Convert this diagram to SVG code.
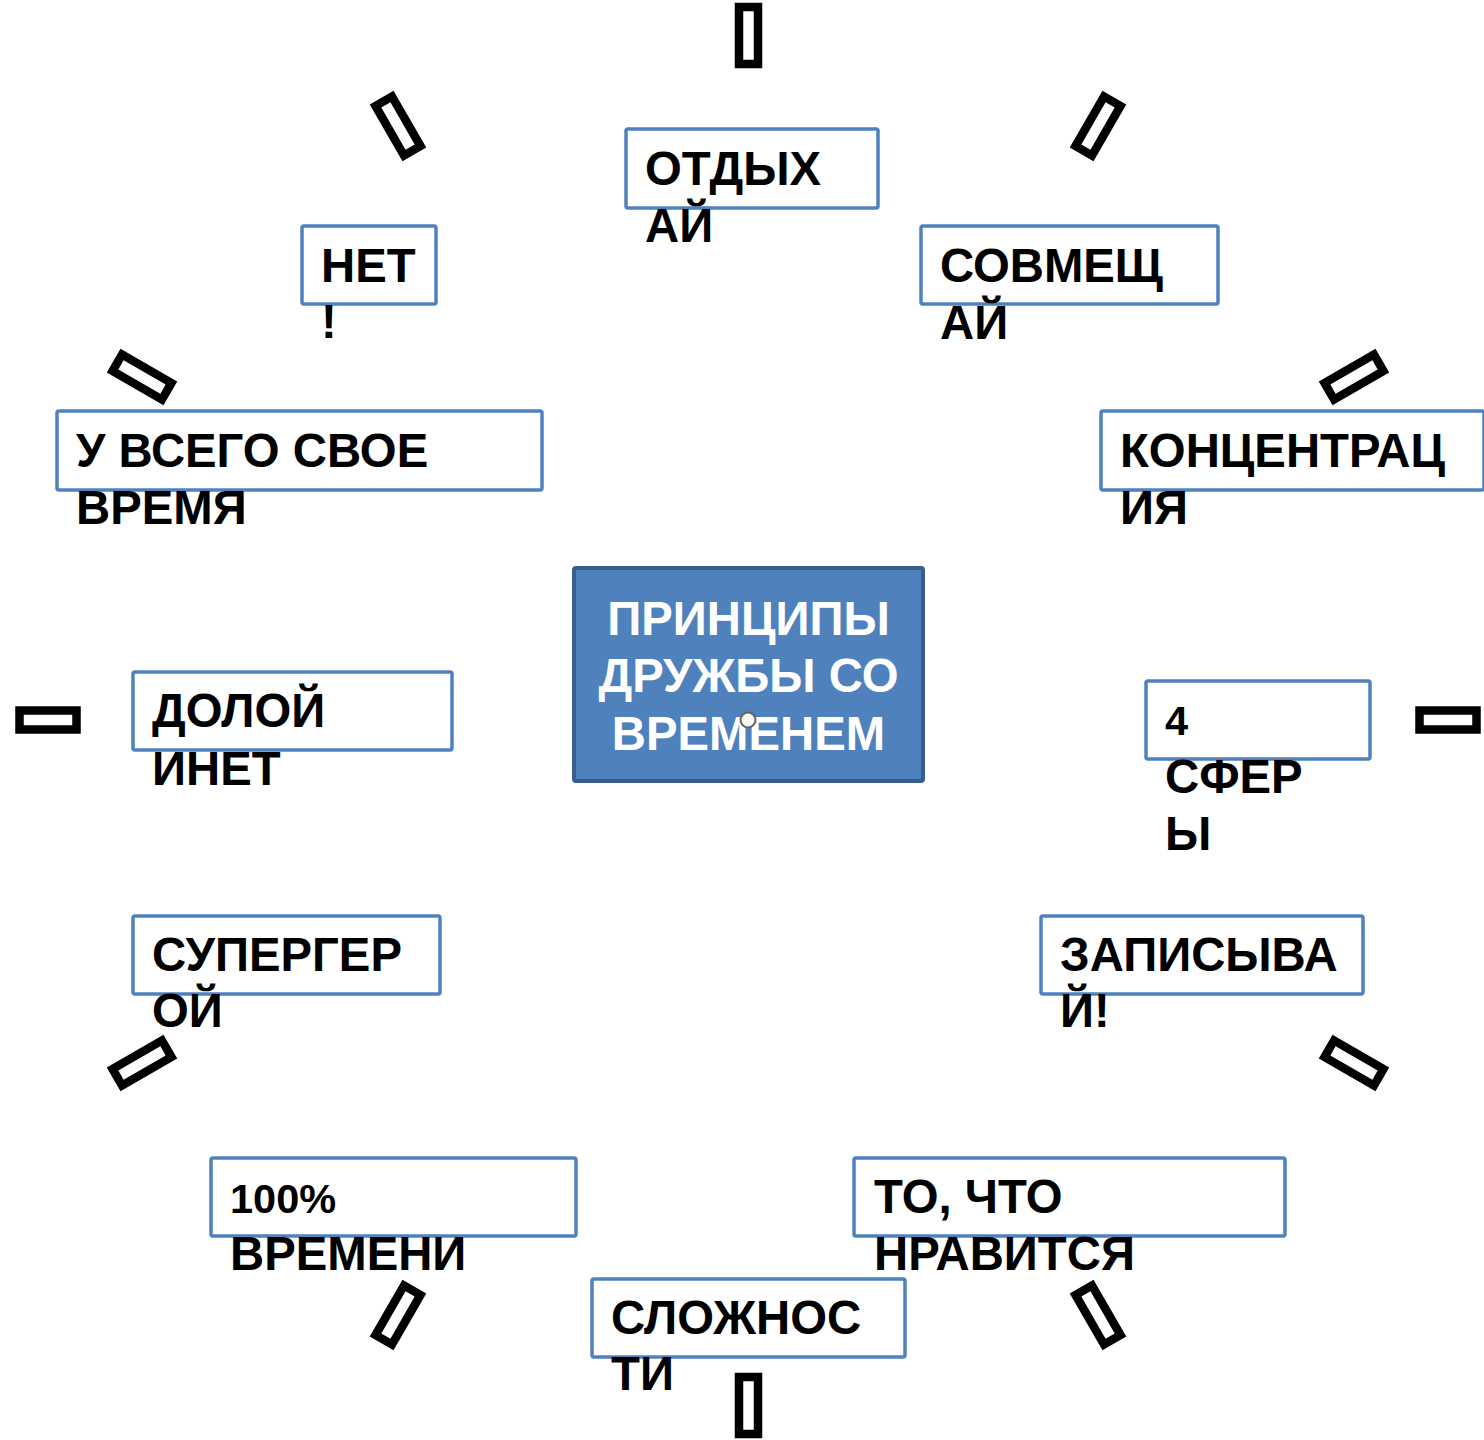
<svg xmlns="http://www.w3.org/2000/svg" width="1484" height="1440" viewBox="0 0 1484 1440">
<style>
.box{fill:#fff;stroke:#4F81BD;stroke-width:3.5}
.t{font-family:"Liberation Sans",Arial,sans-serif;font-weight:bold;font-size:47.3px;fill:#000}
.s{font-size:41.5px}
.c{fill:#fff;text-anchor:middle}
.tofu{fill:#fff;stroke:#000;stroke-width:8.5}
</style>
<defs>
<rect id="tf" class="tofu" x="-9.5" y="-28.5" width="19" height="57"/>
</defs>
<rect width="1484" height="1440" fill="#fff"/>
<g id="marks">
<use href="#tf" transform="translate(748.5,35.5)"/>
<use href="#tf" transform="translate(1098,126) rotate(30)"/>
<use href="#tf" transform="translate(1354,377) rotate(60)"/>
<use href="#tf" transform="translate(1448,720) rotate(90)"/>
<use href="#tf" transform="translate(1354,1063) rotate(-60)"/>
<use href="#tf" transform="translate(1098,1315) rotate(-30)"/>
<use href="#tf" transform="translate(748.5,1405.5)"/>
<use href="#tf" transform="translate(398,1315) rotate(30)"/>
<use href="#tf" transform="translate(142,1063) rotate(60)"/>
<use href="#tf" transform="translate(48,720) rotate(90)"/>
<use href="#tf" transform="translate(142,377) rotate(-60)"/>
<use href="#tf" transform="translate(398,126) rotate(-30)"/>
</g>
<g id="connectors"></g>
<g id="center">
<rect x="574" y="568" width="349" height="213" rx="2" fill="#4F81BD" stroke="#385D8A" stroke-width="4"/>
<text class="t c" x="748.5" y="635">ПРИНЦИПЫ</text>
<text class="t c" x="748.5" y="692">ДРУЖБЫ СО</text>
<text class="t c" x="748.5" y="750">ВРЕМЕНЕМ</text>
<circle cx="748" cy="720" r="7.5" fill="#f8f8f4" stroke="#666" stroke-width="2"/>
</g>
<g id="n1"><rect class="box" x="626" y="129" width="252" height="79" rx="2"/><text class="t" x="645" y="185">ОТДЫХ</text><text class="t" x="645" y="242">АЙ</text></g>
<g id="n2"><rect class="box" x="921" y="226" width="297" height="78" rx="2"/><text class="t" x="940" y="282">СОВМЕЩ</text><text class="t" x="940" y="339">АЙ</text></g>
<g id="n3"><rect class="box" x="1101" y="411" width="383" height="79" rx="2"/><text class="t" x="1120" y="467">КОНЦЕНТРАЦ</text><text class="t" x="1120" y="524">ИЯ</text></g>
<g id="n4"><rect class="box" x="1146" y="681" width="224" height="78" rx="2"/><text class="t s" x="1165" y="735">4</text><text class="t" x="1165" y="793">СФЕР</text><text class="t" x="1165" y="850">Ы</text></g>
<g id="n5"><rect class="box" x="1041" y="916" width="322" height="78" rx="2"/><text class="t" x="1060" y="971">ЗАПИСЫВА</text><text class="t" x="1060" y="1027">Й!</text></g>
<g id="n6"><rect class="box" x="854" y="1158" width="431" height="78" rx="2"/><text class="t" x="874" y="1213">ТО, ЧТО</text><text class="t" x="874" y="1270">НРАВИТСЯ</text></g>
<g id="n7"><rect class="box" x="592" y="1279" width="313" height="78" rx="2"/><text class="t" x="611" y="1334">СЛОЖНОС</text><text class="t" x="611" y="1390">ТИ</text></g>
<g id="n8"><rect class="box" x="211" y="1158" width="365" height="78" rx="2"/><text class="t s" x="230" y="1213">100%</text><text class="t" x="230" y="1270">ВРЕМЕНИ</text></g>
<g id="n9"><rect class="box" x="133" y="916" width="307" height="78" rx="2"/><text class="t" x="152" y="971">СУПЕРГЕР</text><text class="t" x="152" y="1027">ОЙ</text></g>
<g id="n10"><rect class="box" x="133" y="672" width="319" height="78" rx="2"/><text class="t" x="152" y="727">ДОЛОЙ</text><text class="t" x="152" y="785">ИНЕТ</text></g>
<g id="n11"><rect class="box" x="57" y="411" width="485" height="79" rx="2"/><text class="t" x="76" y="467">У ВСЕГО СВОЕ</text><text class="t" x="76" y="524">ВРЕМЯ</text></g>
<g id="n12"><rect class="box" x="302" y="226" width="134" height="78" rx="2"/><text class="t" x="321" y="282">НЕТ</text><text class="t" x="321" y="338">!</text></g>
</svg>
